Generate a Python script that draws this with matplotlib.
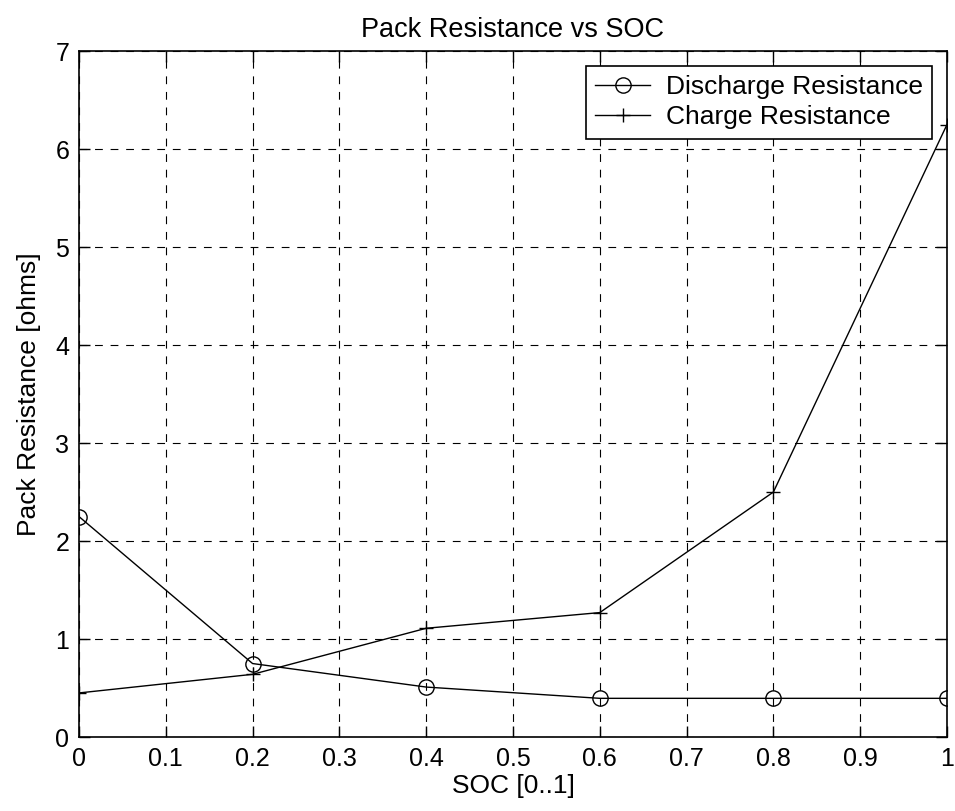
import matplotlib.pyplot as plt

soc = [0, 0.2, 0.4, 0.6, 0.8, 1.0]
discharge_res = [2.25, 0.75, 0.51, 0.395, 0.395, 0.395]
charge_res = [0.45, 0.64, 1.11, 1.27, 2.5, 6.25]
xticks = [0, 0.1, 0.2, 0.3, 0.4, 0.5, 0.6, 0.7, 0.8, 0.9, 1]
xtick_labels = ['0', '0.1', '0.2', '0.3', '0.4', '0.5', '0.6', '0.7', '0.8', '0.9', '1']
yticks = [0, 1, 2, 3, 4, 5, 6, 7]

plt.rcParams['font.family'] = ['Liberation Sans', 'DejaVu Sans']

fig = plt.figure(figsize=(9.55, 8.11), dpi=100)
ax = fig.add_axes([0.0827, 0.0912, 0.9089, 0.8458])

ax.plot(soc, discharge_res, color='k', lw=1, marker='o', markersize=11,
        markerfacecolor='none', markeredgewidth=1, label='Discharge Resistance')
ax.plot(soc, charge_res, color='k', lw=1, marker='+', markersize=10,
        markeredgewidth=1, label='Charge Resistance')

ax.set_xlim(0, 1)
ax.set_ylim(0, 7)
ax.set_xticks(xticks)
ax.set_xticklabels(xtick_labels)
ax.set_yticks(yticks)
ax.tick_params(direction='in', length=8, width=1, top=True, right=True,
               labelsize=18, pad=7, colors='k')
ax.grid(True, color='k', linestyle=(0, (7, 7)), linewidth=0.8)
for s in ax.spines.values():
    s.set_linewidth(1.2)

ax.set_title('Pack Resistance vs SOC', fontsize=19.5, pad=10)
ax.set_xlabel('SOC [0..1]', fontsize=19, labelpad=2)
ax.set_ylabel('Pack Resistance [ohms]', fontsize=19, labelpad=10)

leg = ax.legend(loc='upper right', fontsize=19, frameon=True, fancybox=False,
                edgecolor='k', borderaxespad=0.55, handlelength=2.1,
                handletextpad=0.6, borderpad=0.35, labelspacing=0.25,
                framealpha=1)
leg.get_frame().set_linewidth(1.2)

fig.savefig('out.png', dpi=100, facecolor='white')
